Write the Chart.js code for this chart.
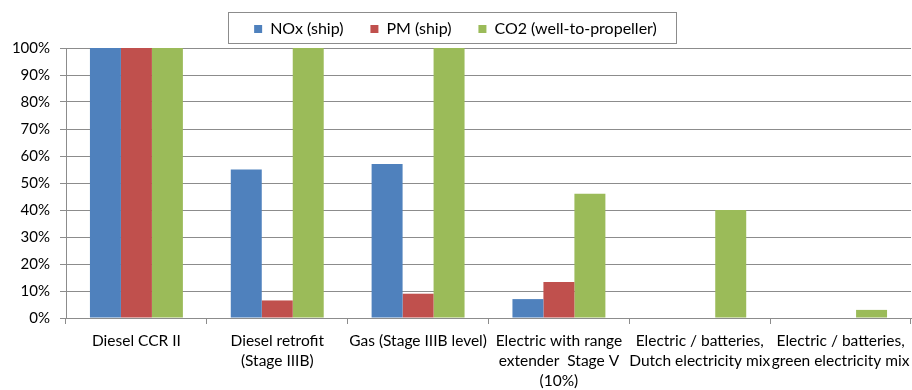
<!DOCTYPE html>
<html>
<head>
<meta charset="utf-8">
<script src="https://cdn.jsdelivr.net/npm/chart.js@4/dist/chart.umd.min.js"></script>
<style>
html,body{margin:0;padding:0;background:#fff;}
#wrap{width:912px;height:390px;position:relative;}
</style>
</head>
<body>
<div id="wrap"><canvas id="c" width="912" height="390"></canvas></div>
<script>
const categories = [
  ["Diesel CCR II"],
  ["Diesel retrofit", "(Stage IIIB)"],
  ["Gas (Stage IIIB level)"],
  ["Electric with range", "extender  Stage V", "(10%)"],
  ["Electric / batteries,", "Dutch electricity mix"],
  ["Electric / batteries,", "green electricity mix"]
];
const seriesNames = ["NOx (ship)", "PM (ship)", "CO2 (well-to-propeller)"];
const noxShip = [100, 55, 57, 7, 0, 0];
const pmShip = [100, 6.5, 9, 13.3, 0, 0];
const co2WellToPropeller = [100, 100, 100, 46, 40, 3];
const yTicks = [0, 10, 20, 30, 40, 50, 60, 70, 80, 90, 100];

const colors = ["#4F81BD", "#C0504D", "#9BBB59"];
const gridColor = "#8C8C8C";
const FONT = "Lato, 'Liberation Sans', sans-serif";

const legendPatch = {
  id: 'legendPatch',
  beforeLayout(chart) {
    const lg = chart.legend;
    if (lg && !lg._patched) {
      const orig = lg.fit;
      lg.fit = function () { orig.call(this); this.height = 54; };
      lg._patched = true;
    }
  },
  afterDraw(chart) {
    const lg = chart.legend;
    if (!lg || !lg.legendHitBoxes || !lg.legendHitBoxes.length) return;
    const hb = lg.legendHitBoxes;
    let l = Infinity, r = -Infinity;
    hb.forEach(b => { l = Math.min(l, b.left); r = Math.max(r, b.left + b.width); });
    const ctx = chart.ctx;
    ctx.save();
    ctx.strokeStyle = gridColor;
    ctx.lineWidth = 1;
    ctx.strokeRect(Math.round(l - 26) + 0.5, 12.5, Math.round(r - l + 45), 31);
    ctx.restore();
  }
};

new Chart(document.getElementById('c'), {
  type: 'bar',
  data: {
    labels: categories,
    datasets: [
      { label: seriesNames[0], data: noxShip, backgroundColor: colors[0] },
      { label: seriesNames[1], data: pmShip, backgroundColor: colors[1] },
      { label: seriesNames[2], data: co2WellToPropeller, backgroundColor: colors[2] }
    ]
  },
  options: {
    responsive: false,
    animation: false,
    layout: { padding: { top: -6, left: 0, right: 1, bottom: 0 } },
    datasets: { bar: { categoryPercentage: 0.66, barPercentage: 1.0 } },
    plugins: {
      tooltip: { enabled: false },
      legend: {
        display: true,
        position: 'top',
        labels: {
          boxWidth: 8,
          boxHeight: 8,
          padding: 27,
          color: '#000',
          font: { family: FONT, size: 16 }
        }
      }
    },
    scales: {
      x: {
        offset: true,
        grid: { display: true, drawOnChartArea: false, drawTicks: true, tickLength: 6, color: gridColor, offset: true },
        border: { display: true, color: gridColor },
        ticks: {
          autoSkip: false, maxRotation: 0, minRotation: 0, padding: 7,
          color: '#000',
          font: { family: FONT, size: 15.5, lineHeight: 1.3 }
        },
        afterFit(scale) { scale.height = 72; scale.paddingLeft = 0; scale.paddingRight = 0; }
      },
      y: {
        min: 0, max: 100,
        afterBuildTicks(scale) { scale.ticks = yTicks.map(v => ({ value: v })); },
        grid: { color: gridColor, drawTicks: true, tickLength: 6 },
        border: { display: true, color: gridColor },
        ticks: {
          padding: 10,
          color: '#000',
          font: { family: FONT, size: 15 },
          callback: v => v + '%'
        },
        afterFit(scale) { scale.width = 66; }
      }
    }
  },
  plugins: [legendPatch]
});
</script>
</body>
</html>
